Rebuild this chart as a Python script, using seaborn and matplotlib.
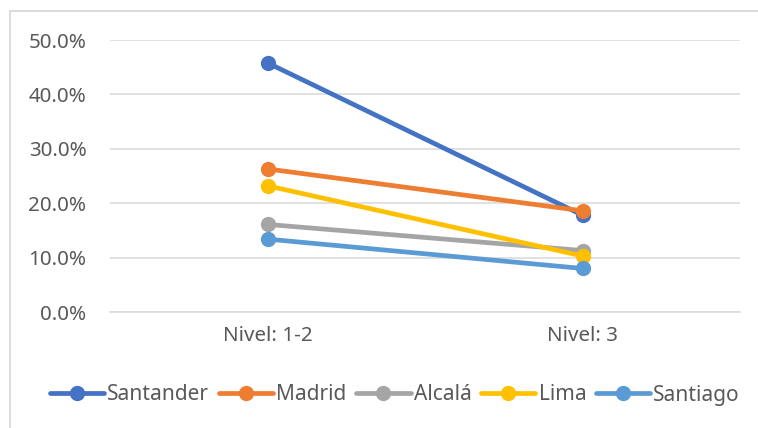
import matplotlib
matplotlib.use("Agg")
import matplotlib.pyplot as plt
import seaborn as sns
import pandas as pd
from matplotlib.ticker import PercentFormatter
from matplotlib.lines import Line2D

categories = ["Nivel: 1-2", "Nivel: 3"]
santander = [0.458, 0.178]
madrid = [0.263, 0.186]
alcala = [0.161, 0.113]
lima = [0.232, 0.103]
santiago = [0.134, 0.080]
series_names = ["Santander", "Madrid", "Alcalá", "Lima", "Santiago"]
series_values = [santander, madrid, alcala, lima, santiago]
colors = ["#4472C4", "#ED7D31", "#A5A5A5", "#FFC000", "#5B9BD5"]

rows = []
for name, vals in zip(series_names, series_values):
    for c, v in zip(categories, vals):
        rows.append({"Nivel": c, "Valor": v, "Ciudad": name})
df = pd.DataFrame(rows)

sns.set_theme(style="white")
plt.rcParams["font.family"] = ["Noto Sans", "DejaVu Sans"]
text_color = "#595959"
grid_color = "#D9D9D9"

W, H = 758, 428
fig = plt.figure(figsize=(W / 100, H / 100), dpi=100)
ax = fig.add_axes([110 / W, 1 - 312 / H, 630 / W, 272 / H])

sns.lineplot(data=df, x="Nivel", y="Valor", hue="Ciudad", hue_order=series_names,
             palette=colors, marker="o", markersize=11, markeredgewidth=0,
             linewidth=3.4, sort=False, ax=ax, legend=False)

ax.set_xlim(-0.5, 1.5)
ax.set_ylim(0, 0.5)
ax.set_yticks([0, 0.1, 0.2, 0.3, 0.4, 0.5])
ax.yaxis.set_major_formatter(PercentFormatter(1, decimals=1))
ax.set_xticks([0, 1])
ax.set_xticklabels(categories)
ax.grid(axis="y", color=grid_color, linewidth=1.1)
ax.set_axisbelow(True)
for s in ["left", "right", "top"]:
    ax.spines[s].set_visible(False)
ax.spines["bottom"].set_color(grid_color)
ax.spines["bottom"].set_linewidth(1.1)
ax.tick_params(axis="both", length=0, labelsize=14.8, colors=text_color)
ax.tick_params(axis="y", pad=17)
ax.tick_params(axis="x", pad=10)
ax.set_xlabel("")
ax.set_ylabel("")

handles = [Line2D([0], [0], color=c, lw=3.4, marker="o", markersize=11,
                  markeredgewidth=0) for c in colors]
leg = fig.legend(handles, series_names, loc="center", bbox_to_anchor=(395 / W, 1 - 395 / H),
                 ncol=5, frameon=False, fontsize=15, handlelength=2.6,
                 handletextpad=0.15, columnspacing=0.47, borderaxespad=0)
for t in leg.get_texts():
    t.set_color(text_color)

# chart border (top and left visible)
fig.add_artist(Line2D([10 / W, 1.0], [1 - 11 / H, 1 - 11 / H], color=grid_color, lw=1.3))
fig.add_artist(Line2D([10 / W, 10 / W], [1 - 11 / H, 0.0], color=grid_color, lw=1.3))

fig.savefig("out.png", dpi=100)
